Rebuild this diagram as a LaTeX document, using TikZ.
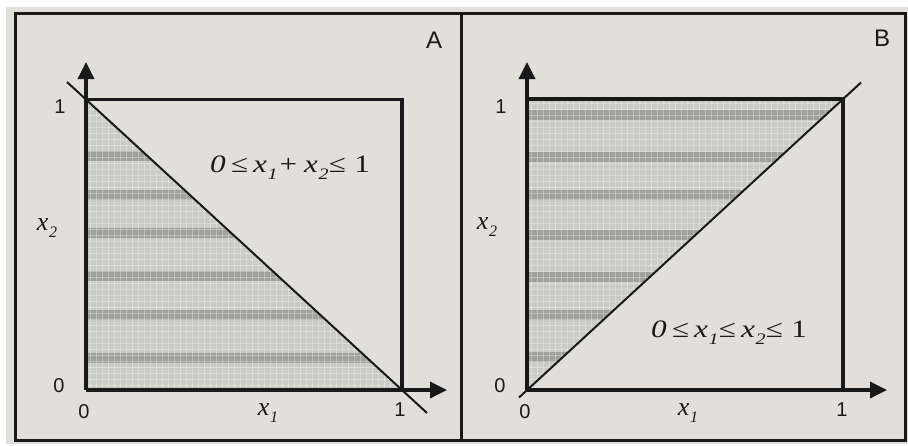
\documentclass[tikz,border=0pt]{standalone}
\usepackage{fontspec}
\setmainfont{Liberation Serif}
\newfontfamily\lsans{Liberation Sans}
\usetikzlibrary{arrows.meta}
\definecolor{bgc}{RGB}{226,223,218}
\definecolor{shadec}{RGB}{202,202,199}
\definecolor{bandc}{RGB}{160,160,158}
\definecolor{inkc}{RGB}{25,25,25}
\newcommand\xs[1]{x\kern0.5pt\raisebox{-0.28em}{\fontsize{16}{16}\selectfont #1}}
\begin{document}
\begin{tikzpicture}[x=1pt,y=-1pt,
  framebox/.style={draw=inkc,line width=3pt},
  axisline/.style={draw=inkc,line width=3.5pt,-{Triangle[length=17pt,width=16pt]}},
  sqline/.style={draw=inkc,line width=3.5pt,line join=miter},
  diagline/.style={draw=inkc,line width=2pt},
  numlab/.style={font=\lsans\fontsize{20}{20}\selectfont,text=inkc,inner sep=0pt},
  panlab/.style={font=\lsans\fontsize{24}{24}\selectfont,text=inkc,inner sep=0pt},
  varlab/.style={font=\fontsize{26}{26}\selectfont\itshape,text=inkc,inner sep=0pt},
  eqlab/.style={font=\fontsize{25}{25}\selectfont\itshape,text=inkc,inner sep=0pt},
  texture/.style={draw=white,line width=0.6pt,opacity=0.3}]
\useasboundingbox (0,0) rectangle (908,445);
\fill[white] (0,0) rectangle (908,445);
\fill[bgc] (6,7) rectangle (908,444);

% ---------------- Panel A ----------------
\coordinate (Ao) at (86,390);
\coordinate (Ax) at (447,390);
\coordinate (Ay) at (86,62);
\coordinate (Atl) at (86,99.5);
\coordinate (Atr) at (402,99.5);
\coordinate (Abr) at (402,390);
\coordinate (Ad1) at (67,82);
\coordinate (Ad2) at (427,413);
\fill[shadec] (Ao) -- (Atl) -- (Abr) -- cycle;
\begin{scope}
  \clip (Ao) -- (Atl) -- (Abr) -- cycle;
  \foreach \y in {156,195,233,276,315,358} \fill[bandc] (86,\y-5) rectangle (402,\y+5);
  \foreach \x in {90,96,...,402} \draw[texture] (\x,99) -- (\x,390);
  \foreach \y in {103,109,...,390} \draw[texture] (86,\y) -- (402,\y);
\end{scope}
\draw[sqline] (Atl) -- (Atr) -- (Abr);
\draw[diagline] (Ad1) -- (Ad2);
\draw[axisline] (Ao) -- (Ay);
\draw[axisline] (Ao) -- (Ax);
\node[numlab] (A1y) at (60,107) {1};
\node[numlab] (A0y) at (59,386) {0};
\node[numlab] (A0x) at (84,412) {0};
\node[numlab] (A1x) at (400,410) {1};
\node[varlab] (Ax1) at (268,413) {\xs{1}};
\node[varlab] (Ax2) at (47,228) {\xs{2}};
\node[panlab] (Alab) at (434,40) {A};
\node[eqlab] (Aeq) at (290,168) {\scalebox{1.25}[1]{0\,≤\,\xs{1}+\,\xs{2}≤\;\upshape 1}};

% ---------------- Panel B ----------------
\coordinate (Bo) at (527,390);
\coordinate (Bx) at (887,390);
\coordinate (By) at (527,62);
\coordinate (Btl) at (527,99);
\coordinate (Btr) at (843,99);
\coordinate (Bbr) at (843,390);
\coordinate (Bd1) at (519,397.5);
\coordinate (Bd2) at (861,82.5);
\fill[shadec] (Bo) -- (Btl) -- (Btr) -- cycle;
\begin{scope}
  \clip (Bo) -- (Btl) -- (Btr) -- cycle;
  \foreach \y in {115,157,195,235,277,315,357} \fill[bandc] (527,\y-5) rectangle (843,\y+5);
  \foreach \x in {531,537,...,843} \draw[texture] (\x,99) -- (\x,390);
  \foreach \y in {103,109,...,390} \draw[texture] (527,\y) -- (843,\y);
\end{scope}
\draw[sqline] (Btl) -- (Btr) -- (Bbr);
\draw[diagline] (Bd1) -- (Bd2);
\draw[axisline] (Bo) -- (By);
\draw[axisline] (Bo) -- (Bx);
\node[numlab] (B1y) at (501,107) {1};
\node[numlab] (B0y) at (500,386) {0};
\node[numlab] (B0x) at (525,412) {0};
\node[numlab] (B1x) at (842,410) {1};
\node[varlab] (Bx1) at (688,413) {\xs{1}};
\node[varlab] (Bx2) at (487,227) {\xs{2}};
\node[panlab] (Blab) at (882,38) {B};
\node[eqlab] (Beq) at (729,333) {\scalebox{1.25}[1]{0\,≤\,\xs{1}≤\,\xs{2}≤\;\upshape 1}};

% ---------------- Frames ----------------
\draw[framebox] (15.5,13) rectangle (461,440);
\draw[framebox] (461,13) rectangle (905,440);
\end{tikzpicture}
\end{document}
